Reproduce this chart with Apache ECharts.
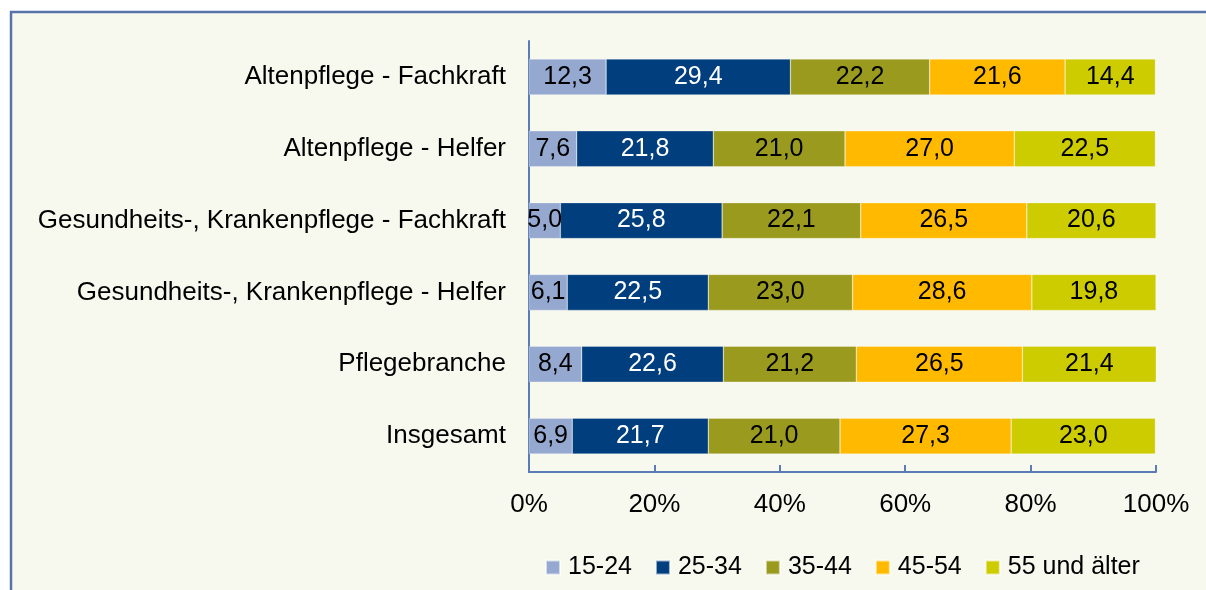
<!DOCTYPE html>
<html>
<head>
<meta charset="utf-8">
<script src="https://cdn.jsdelivr.net/npm/echarts@6/dist/echarts.min.js"></script>
<style>
  html, body { margin: 0; padding: 0; background: #ffffff; }
  #main { width: 1206px; height: 590px; }
</style>
</head>
<body>
<div id="main"></div>
<script>
  // Kategorien (oben nach unten)
  var kategorien = ['Altenpflege - Fachkraft', 'Altenpflege - Helfer', 'Gesundheits-, Krankenpflege - Fachkraft',
                    'Gesundheits-, Krankenpflege - Helfer', 'Pflegebranche', 'Insgesamt'];
  var altersgruppen = ['15-24', '25-34', '35-44', '45-54', '55 und älter'];
  // Anteile in %
  var a15_24 = [12.3, 7.6, 5.0, 6.1, 8.4, 6.9];
  var a25_34 = [29.4, 21.8, 25.8, 22.5, 22.6, 21.7];
  var a35_44 = [22.2, 21.0, 22.1, 23.0, 21.2, 21.0];
  var a45_54 = [21.6, 27.0, 26.5, 28.6, 26.5, 27.3];
  var a55 = [14.4, 22.5, 20.6, 19.8, 21.4, 23.0];
  var werte = [a15_24, a25_34, a35_44, a45_54, a55];
  var farben = ['#95A8D0', '#003E7E', '#9A9A1F', '#FFBA00', '#CCCC00'];
  var textfarben = ['#000', '#fff', '#000', '#000', '#000'];

  var chart = echarts.init(document.getElementById('main'));

  var series = [];
  for (var i = 0; i < altersgruppen.length; i++) {
    series.push({
      name: altersgruppen[i],
      type: 'bar',
      stack: 'gesamt',
      barWidth: '50%',
      data: werte[i],
      itemStyle: { color: farben[i], borderColor: 'rgba(255,255,255,0.6)', borderWidth: 0.5 },
      label: {
        show: true,
        position: 'inside',
        color: textfarben[i],
        fontSize: 25,
        fontFamily: 'Liberation Sans',
        formatter: function (p) { return p.value.toFixed(1).replace('.', ','); }
      }
    });
  }

  var option = {
    animation: false,
    backgroundColor: '#ffffff',
    textStyle: { fontFamily: 'Liberation Sans' },
    graphic: [
      {
        type: 'rect', z: -10,
        shape: { x: 11, y: 12, width: 1300, height: 700 },
        style: { fill: '#F8F9EE', stroke: '#5873AA', lineWidth: 2.5 }
      }
    ],
    grid: { left: 529, right: 50, top: 41, bottom: 118 },
    legend: {
      data: altersgruppen,
      left: 545, top: 555,
      padding: 0,
      icon: 'rect',
      itemWidth: 14, itemHeight: 14,
      itemGap: 23,
      textStyle: { fontSize: 25, color: '#000', fontFamily: 'Liberation Sans', padding: [0, 0, 0, 3] }
    },
    xAxis: {
      type: 'value',
      min: 0, max: 100, interval: 20,
      axisLine: { show: true, lineStyle: { color: '#5A7BB5', width: 2 } },
      axisTick: { show: true, inside: true, length: 7, lineStyle: { color: '#5A7BB5', width: 2 } },
      splitLine: { show: false },
      axisLabel: { fontSize: 26, color: '#000', margin: 20, formatter: '{value}%' }
    },
    yAxis: {
      type: 'category',
      inverse: true,
      data: kategorien,
      axisLine: { show: true, lineStyle: { color: '#5A7BB5', width: 2 } },
      axisTick: { show: false },
      axisLabel: { fontSize: 26, color: '#000', margin: 23 }
    },
    series: series
  };

  chart.setOption(option);
</script>
</body>
</html>
